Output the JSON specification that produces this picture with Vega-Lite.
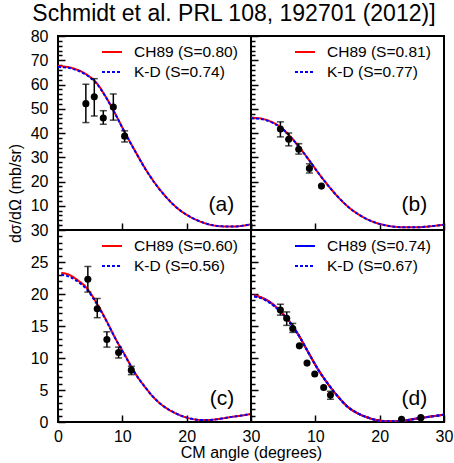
{
  "$schema": "https://vega.github.io/schema/vega-lite/v6.json",
  "padding": {"left": 6, "top": 3, "right": 2, "bottom": 40},
  "background": "white",
  "title": {"text": "Schmidt et al. PRL 108, 192701 (2012)]", "fontSize": 23, "font": "Liberation Sans", "fontWeight": "normal", "anchor": "middle", "color": "black", "offset": 1, "dx": 4},
  "datasets": {
    "curves": [
      {"p":"a","x":0,"ch":67.6,"kd":67.2},{"p":"a","x":1.5,"ch":67.2,"kd":66.9},{"p":"a","x":3,"ch":66.1,"kd":65.8},{"p":"a","x":4.5,"ch":64.0,"kd":63.8},{"p":"a","x":6,"ch":60.6,"kd":60.4},{"p":"a","x":7.5,"ch":54.6,"kd":54.5},{"p":"a","x":9,"ch":47.4,"kd":47.3},{"p":"a","x":10.5,"ch":39.7,"kd":39.6},{"p":"a","x":12,"ch":32.5,"kd":32.4},{"p":"a","x":13.5,"ch":25.6,"kd":25.5},{"p":"a","x":15,"ch":19.6,"kd":19.5},{"p":"a","x":16.5,"ch":14.5,"kd":14.5},{"p":"a","x":18,"ch":10.3,"kd":10.3},{"p":"a","x":19.5,"ch":7.1,"kd":7.1},{"p":"a","x":21,"ch":4.8,"kd":4.8},{"p":"a","x":22.5,"ch":3.1,"kd":3.1},{"p":"a","x":24,"ch":2.0,"kd":2.0},{"p":"a","x":25.5,"ch":1.5,"kd":1.5},{"p":"a","x":27,"ch":1.4,"kd":1.4},{"p":"a","x":28.5,"ch":1.7,"kd":1.7},{"p":"a","x":30,"ch":2.3,"kd":2.3},
      {"p":"b","x":0,"ch":46.3,"kd":46.1},{"p":"b","x":1.5,"ch":46.0,"kd":45.8},{"p":"b","x":3,"ch":44.8,"kd":44.6},{"p":"b","x":4.5,"ch":42.6,"kd":42.5},{"p":"b","x":6,"ch":38.9,"kd":38.8},{"p":"b","x":7.5,"ch":34.2,"kd":34.1},{"p":"b","x":9,"ch":28.9,"kd":28.9},{"p":"b","x":10.5,"ch":23.4,"kd":23.4},{"p":"b","x":12,"ch":18.3,"kd":18.3},{"p":"b","x":13.5,"ch":13.7,"kd":13.7},{"p":"b","x":15,"ch":9.8,"kd":9.8},{"p":"b","x":16.5,"ch":6.8,"kd":6.8},{"p":"b","x":18,"ch":4.5,"kd":4.5},{"p":"b","x":19.5,"ch":2.9,"kd":2.9},{"p":"b","x":21,"ch":1.9,"kd":1.9},{"p":"b","x":22.5,"ch":1.3,"kd":1.3},{"p":"b","x":24,"ch":1.1,"kd":1.1},{"p":"b","x":25.5,"ch":1.1,"kd":1.1},{"p":"b","x":27,"ch":1.3,"kd":1.3},{"p":"b","x":28.5,"ch":1.7,"kd":1.7},{"p":"b","x":30,"ch":2.2,"kd":2.2},
      {"p":"c","x":0.5,"ch":23.3,"kd":23.0},{"p":"c","x":1.5,"ch":23.1,"kd":22.8},{"p":"c","x":3,"ch":22.2,"kd":22.0},{"p":"c","x":4.5,"ch":20.9,"kd":20.7},{"p":"c","x":6,"ch":18.6,"kd":18.5},{"p":"c","x":7.5,"ch":15.9,"kd":15.8},{"p":"c","x":9,"ch":12.9,"kd":12.9},{"p":"c","x":10.5,"ch":10.3,"kd":10.2},{"p":"c","x":12,"ch":7.6,"kd":7.6},{"p":"c","x":13.5,"ch":5.5,"kd":5.5},{"p":"c","x":15,"ch":3.7,"kd":3.7},{"p":"c","x":16.5,"ch":2.4,"kd":2.4},{"p":"c","x":18,"ch":1.5,"kd":1.5},{"p":"c","x":19.5,"ch":0.85,"kd":0.85},{"p":"c","x":21,"ch":0.45,"kd":0.45},{"p":"c","x":22.5,"ch":0.3,"kd":0.3},{"p":"c","x":24,"ch":0.35,"kd":0.35},{"p":"c","x":25.5,"ch":0.55,"kd":0.55},{"p":"c","x":27,"ch":0.8,"kd":0.8},{"p":"c","x":28.5,"ch":1.0,"kd":1.0},{"p":"c","x":30,"ch":1.25,"kd":1.25},
      {"p":"d","x":0.5,"ch":19.8,"kd":19.6},{"p":"d","x":1.5,"ch":19.5,"kd":19.4},{"p":"d","x":3,"ch":18.7,"kd":18.6},{"p":"d","x":4.5,"ch":17.4,"kd":17.3},{"p":"d","x":6,"ch":15.7,"kd":15.6},{"p":"d","x":7.5,"ch":13.4,"kd":13.4},{"p":"d","x":9,"ch":10.7,"kd":10.7},{"p":"d","x":10.5,"ch":8.1,"kd":8.1},{"p":"d","x":12,"ch":5.9,"kd":5.9},{"p":"d","x":13.5,"ch":4.0,"kd":4.0},{"p":"d","x":15,"ch":2.4,"kd":2.4},{"p":"d","x":16.5,"ch":1.4,"kd":1.4},{"p":"d","x":18,"ch":0.75,"kd":0.75},{"p":"d","x":19.5,"ch":0.3,"kd":0.3},{"p":"d","x":21,"ch":0.12,"kd":0.12},{"p":"d","x":22.5,"ch":0.12,"kd":0.12},{"p":"d","x":24,"ch":0.25,"kd":0.25},{"p":"d","x":25.5,"ch":0.5,"kd":0.5},{"p":"d","x":27,"ch":0.72,"kd":0.72},{"p":"d","x":28.5,"ch":0.92,"kd":0.92},{"p":"d","x":30,"ch":1.15,"kd":1.15}
    ],
    "pts": [
      {"p":"a","x":4.33,"y":52.1,"lo":44.3,"hi":60.1},{"p":"a","x":5.64,"y":54.9,"lo":47.0,"hi":62.4},{"p":"a","x":7.04,"y":46.2,"lo":43.6,"hi":49.2},{"p":"a","x":8.6,"y":50.7,"lo":45.3,"hi":56.1},{"p":"a","x":10.36,"y":38.7,"lo":36.3,"hi":40.9},
      {"p":"b","x":4.57,"y":41.6,"lo":38.4,"hi":44.6},{"p":"b","x":5.86,"y":37.4,"lo":34.7,"hi":40.0},{"p":"b","x":7.42,"y":33.3,"lo":31.3,"hi":35.6},{"p":"b","x":9.08,"y":25.4,"lo":23.5,"hi":27.3},{"p":"b","x":10.95,"y":18.1,"lo":null,"hi":null},
      {"p":"c","x":4.64,"y":22.3,"lo":20.3,"hi":24.3},{"p":"c","x":6.1,"y":17.7,"lo":16.3,"hi":19.3},{"p":"c","x":7.6,"y":12.9,"lo":11.7,"hi":14.1},{"p":"c","x":9.42,"y":10.85,"lo":10.0,"hi":11.7},{"p":"c","x":11.4,"y":8.1,"lo":7.4,"hi":8.7},
      {"p":"d","x":4.57,"y":17.5,"lo":16.7,"hi":18.4},{"p":"d","x":5.55,"y":16.2,"lo":15.1,"hi":17.2},{"p":"d","x":6.49,"y":14.6,"lo":14.0,"hi":15.4},{"p":"d","x":7.52,"y":11.9,"lo":null,"hi":null},{"p":"d","x":8.71,"y":9.2,"lo":null,"hi":null},{"p":"d","x":9.91,"y":7.5,"lo":null,"hi":null},{"p":"d","x":11.3,"y":5.4,"lo":null,"hi":null},{"p":"d","x":12.35,"y":4.2,"lo":3.55,"hi":4.8},{"p":"d","x":23.4,"y":0.42,"lo":null,"hi":null},{"p":"d","x":26.4,"y":0.68,"lo":null,"hi":null}
    ],
    "tags": [{"p":"a","lab":"(a)"},{"p":"b","lab":"(b)"},{"p":"c","lab":"(c)"},{"p":"d","lab":"(d)"}]
  },
  "config": {
    "view": {"stroke": "black", "strokeWidth": 2},
    "axis": {"labelFont": "Liberation Sans", "labelFontSize": 16, "labelColor": "black", "titleFont": "Liberation Sans", "titleFontSize": 16, "titleFontWeight": "normal", "titleColor": "black", "tickColor": "black", "tickWidth": 1.5, "domain": false, "grid": false, "labelFlush": false, "labelOverlap": false},
    "legend": {"orient": "none", "legendX": 43, "legendY": 5, "labelFont": "Liberation Sans", "labelFontSize": 15.5, "labelColor": "black", "symbolType": "stroke", "symbolSize": 400, "symbolStrokeWidth": 2, "labelOffset": 11, "rowPadding": -4, "padding": 0, "labelLimit": 300}
  },
  "columns": 2,
  "spacing": 0,
  "bounds": "flush",
  "resolve": {"scale": {"color": "independent", "stroke": "independent", "strokeDash": "independent"}},
  "concat": [
    {
      "width": 193, "height": 194,
      "resolve": {"axis": {"y": "independent"}},
      "layer": [
        {"data": {"name": "curves"}, "transform": [{"filter": "datum.p === 'a'"}, {"fold": ["ch", "kd"], "as": ["m", "v"]}],
         "mark": {"type": "line", "interpolate": "monotone", "strokeWidth": 2, "clip": true},
         "encoding": {
           "x": {"field": "x", "type": "quantitative", "scale": {"domain": [0, 30], "nice": false, "zero": false},
                 "axis": {"values": [0, 10, 20, 30], "labels": false, "tickSize": -7, "title": null}},
           "y": {"field": "v", "type": "quantitative", "scale": {"domain": [0, 80], "nice": false},
                 "axis": {"values": [10,20,30,40,50,60,70,80], "orient": "left", "tickSize": -7, "labelPadding": 17,
                          "title": "dσ/dΩ (mb/sr)", "titleX": -35, "titleY": 157}},
           "color": {"field": "m", "type": "nominal", "scale": {"domain": ["ch", "kd"], "range": ["#ff0000", "#0000ff"]},
                     "legend": {"title": null, "labelExpr": "datum.label === 'ch' ? 'CH89 (S=0.80)' : 'K-D (S=0.74)'"}},
           "strokeDash": {"field": "m", "type": "nominal", "scale": {"domain": ["ch", "kd"], "range": [[1, 0], [3, 2]]},
                     "legend": {"title": null, "labelExpr": "datum.label === 'ch' ? 'CH89 (S=0.80)' : 'K-D (S=0.74)'"}}
         }},
        {"data": {"name": "pts"}, "transform": [{"filter": "datum.p === 'a' && datum.lo != null"}],
         "mark": {"type": "errorbar", "color": "black", "thickness": 1.5, "ticks": {"size": 7, "thickness": 1.5, "color": "black"}},
         "encoding": {"x": {"field": "x", "type": "quantitative"},
                      "y": {"field": "lo", "type": "quantitative", "axis": {"values": [2,4,6,8,12,14,16,18,22,24,26,28,32,34,36,38,42,44,46,48,52,54,56,58,62,64,66,68,72,74,76,78], "orient": "left", "tickSize": -4, "labels": false, "title": null}},
                      "y2": {"field": "hi"}}},
        {"data": {"name": "pts"}, "transform": [{"filter": "datum.p === 'a'"}],
         "mark": {"type": "point", "filled": true, "color": "black", "opacity": 1, "size": 50},
         "encoding": {"x": {"field": "x", "type": "quantitative"}, "y": {"field": "y", "type": "quantitative", "axis": null}}},
        {"data": {"name": "tags"}, "transform": [{"filter": "datum.p === 'a'"}],
         "mark": {"type": "text", "align": "right", "baseline": "middle", "fontSize": 21, "font": "Liberation Sans", "color": "black"},
         "encoding": {"x": {"datum": 27.4, "type": "quantitative"}, "y": {"datum": 10.2, "type": "quantitative", "axis": null}, "text": {"field": "lab"}}}
      ]
    },
    {
      "width": 193, "height": 194,
      "resolve": {"axis": {"y": "independent"}},
      "layer": [
        {"data": {"name": "curves"}, "transform": [{"filter": "datum.p === 'b'"}, {"fold": ["ch", "kd"], "as": ["m", "v"]}],
         "mark": {"type": "line", "interpolate": "monotone", "strokeWidth": 2, "clip": true},
         "encoding": {
           "x": {"field": "x", "type": "quantitative", "scale": {"domain": [0, 30], "nice": false, "zero": false},
                 "axis": {"values": [0, 10, 20, 30], "labels": false, "tickSize": -7, "title": null}},
           "y": {"field": "v", "type": "quantitative", "scale": {"domain": [0, 80], "nice": false},
                 "axis": {"values": [10,20,30,40,50,60,70,80], "orient": "left", "tickSize": -7, "labels": false, "title": null}},
           "color": {"field": "m", "type": "nominal", "scale": {"domain": ["ch", "kd"], "range": ["#ff0000", "#0000ff"]},
                     "legend": {"title": null, "labelExpr": "datum.label === 'ch' ? 'CH89 (S=0.81)' : 'K-D (S=0.77)'"}},
           "strokeDash": {"field": "m", "type": "nominal", "scale": {"domain": ["ch", "kd"], "range": [[1, 0], [3, 2]]},
                     "legend": {"title": null, "labelExpr": "datum.label === 'ch' ? 'CH89 (S=0.81)' : 'K-D (S=0.77)'"}}
         }},
        {"data": {"name": "pts"}, "transform": [{"filter": "datum.p === 'b' && datum.lo != null"}],
         "mark": {"type": "errorbar", "color": "black", "thickness": 1.5, "ticks": {"size": 7, "thickness": 1.5, "color": "black"}},
         "encoding": {"x": {"field": "x", "type": "quantitative"},
                      "y": {"field": "lo", "type": "quantitative", "axis": {"values": [2,4,6,8,12,14,16,18,22,24,26,28,32,34,36,38,42,44,46,48,52,54,56,58,62,64,66,68,72,74,76,78], "orient": "left", "tickSize": -4, "labels": false, "title": null}},
                      "y2": {"field": "hi"}}},
        {"data": {"name": "pts"}, "transform": [{"filter": "datum.p === 'b'"}],
         "mark": {"type": "point", "filled": true, "color": "black", "opacity": 1, "size": 50},
         "encoding": {"x": {"field": "x", "type": "quantitative"}, "y": {"field": "y", "type": "quantitative", "axis": null}}},
        {"data": {"name": "tags"}, "transform": [{"filter": "datum.p === 'b'"}],
         "mark": {"type": "text", "align": "right", "baseline": "middle", "fontSize": 21, "font": "Liberation Sans", "color": "black"},
         "encoding": {"x": {"datum": 27.4, "type": "quantitative"}, "y": {"datum": 10.2, "type": "quantitative", "axis": null}, "text": {"field": "lab"}}}
      ]
    },
    {
      "width": 193, "height": 192,
      "resolve": {"axis": {"y": "independent"}},
      "layer": [
        {"data": {"name": "curves"}, "transform": [{"filter": "datum.p === 'c'"}, {"fold": ["ch", "kd"], "as": ["m", "v"]}],
         "mark": {"type": "line", "interpolate": "monotone", "strokeWidth": 2, "clip": true},
         "encoding": {
           "x": {"field": "x", "type": "quantitative", "scale": {"domain": [0, 30], "nice": false, "zero": false},
                 "axis": {"values": [0, 10, 20, 30], "tickSize": -7, "labelPadding": 13, "title": "CM angle (degrees)", "titleX": 193, "titlePadding": 0}},
           "y": {"field": "v", "type": "quantitative", "scale": {"domain": [0, 30], "nice": false},
                 "axis": {"values": [0,5,10,15,20,25,30], "orient": "left", "tickSize": -7, "labelPadding": 17, "title": null}},
           "color": {"field": "m", "type": "nominal", "scale": {"domain": ["ch", "kd"], "range": ["#ff0000", "#0000ff"]},
                     "legend": {"title": null, "labelExpr": "datum.label === 'ch' ? 'CH89 (S=0.60)' : 'K-D (S=0.56)'"}},
           "strokeDash": {"field": "m", "type": "nominal", "scale": {"domain": ["ch", "kd"], "range": [[1, 0], [3, 2]]},
                     "legend": {"title": null, "labelExpr": "datum.label === 'ch' ? 'CH89 (S=0.60)' : 'K-D (S=0.56)'"}}
         }},
        {"data": {"name": "pts"}, "transform": [{"filter": "datum.p === 'c' && datum.lo != null"}],
         "mark": {"type": "errorbar", "color": "black", "thickness": 1.5, "ticks": {"size": 7, "thickness": 1.5, "color": "black"}},
         "encoding": {"x": {"field": "x", "type": "quantitative"},
                      "y": {"field": "lo", "type": "quantitative", "axis": {"values": [1,2,3,4,6,7,8,9,11,12,13,14,16,17,18,19,21,22,23,24,26,27,28,29], "orient": "left", "tickSize": -4, "labels": false, "title": null}},
                      "y2": {"field": "hi"}}},
        {"data": {"name": "pts"}, "transform": [{"filter": "datum.p === 'c'"}],
         "mark": {"type": "point", "filled": true, "color": "black", "opacity": 1, "size": 50},
         "encoding": {"x": {"field": "x", "type": "quantitative"}, "y": {"field": "y", "type": "quantitative", "axis": null}}},
        {"data": {"name": "tags"}, "transform": [{"filter": "datum.p === 'c'"}],
         "mark": {"type": "text", "align": "right", "baseline": "middle", "fontSize": 21, "font": "Liberation Sans", "color": "black"},
         "encoding": {"x": {"datum": 27.4, "type": "quantitative"}, "y": {"datum": 3.65, "type": "quantitative", "axis": null}, "text": {"field": "lab"}}}
      ]
    },
    {
      "width": 193, "height": 192,
      "resolve": {"axis": {"y": "independent"}},
      "layer": [
        {"data": {"name": "curves"}, "transform": [{"filter": "datum.p === 'd'"}, {"fold": ["ch", "kd"], "as": ["m", "v"]}],
         "mark": {"type": "line", "interpolate": "monotone", "strokeWidth": 2, "clip": true},
         "encoding": {
           "x": {"field": "x", "type": "quantitative", "scale": {"domain": [0, 30], "nice": false, "zero": false},
                 "axis": {"values": [10, 20, 30], "tickSize": -7, "labelPadding": 13, "title": null}},
           "y": {"field": "v", "type": "quantitative", "scale": {"domain": [0, 30], "nice": false},
                 "axis": {"values": [5,10,15,20,25], "orient": "left", "tickSize": -7, "labels": false, "title": null}},
           "color": {"field": "m", "type": "nominal", "scale": {"domain": ["ch", "kd"], "range": ["#0000ff", "#0000ff"]},
                     "legend": {"title": null, "labelExpr": "datum.label === 'ch' ? 'CH89 (S=0.74)' : 'K-D (S=0.67)'"}},
           "strokeDash": {"field": "m", "type": "nominal", "scale": {"domain": ["ch", "kd"], "range": [[1, 0], [3, 2]]},
                     "legend": {"title": null, "labelExpr": "datum.label === 'ch' ? 'CH89 (S=0.74)' : 'K-D (S=0.67)'"}}
         }},
        {"data": {"name": "curves"}, "transform": [{"filter": "datum.p === 'd'"}],
         "mark": {"type": "line", "interpolate": "monotone", "strokeWidth": 2, "clip": true, "color": "#ff0000"},
         "encoding": {"x": {"field": "x", "type": "quantitative"}, "y": {"field": "ch", "type": "quantitative", "axis": null}}},
        {"data": {"name": "curves"}, "transform": [{"filter": "datum.p === 'd'"}],
         "mark": {"type": "line", "interpolate": "monotone", "strokeWidth": 2, "clip": true, "color": "#0000ff", "strokeDash": [3, 2]},
         "encoding": {"x": {"field": "x", "type": "quantitative"}, "y": {"field": "kd", "type": "quantitative", "axis": null}}},
        {"data": {"name": "pts"}, "transform": [{"filter": "datum.p === 'd' && datum.lo != null"}],
         "mark": {"type": "errorbar", "color": "black", "thickness": 1.5, "ticks": {"size": 7, "thickness": 1.5, "color": "black"}},
         "encoding": {"x": {"field": "x", "type": "quantitative"},
                      "y": {"field": "lo", "type": "quantitative", "axis": {"values": [1,2,3,4,6,7,8,9,11,12,13,14,16,17,18,19,21,22,23,24,26,27,28,29], "orient": "left", "tickSize": -4, "labels": false, "title": null}},
                      "y2": {"field": "hi"}}},
        {"data": {"name": "pts"}, "transform": [{"filter": "datum.p === 'd'"}],
         "mark": {"type": "point", "filled": true, "color": "black", "opacity": 1, "size": 50},
         "encoding": {"x": {"field": "x", "type": "quantitative"}, "y": {"field": "y", "type": "quantitative", "axis": null}}},
        {"data": {"name": "tags"}, "transform": [{"filter": "datum.p === 'd'"}],
         "mark": {"type": "text", "align": "right", "baseline": "middle", "fontSize": 21, "font": "Liberation Sans", "color": "black"},
         "encoding": {"x": {"datum": 27.4, "type": "quantitative"}, "y": {"datum": 3.65, "type": "quantitative", "axis": null}, "text": {"field": "lab"}}}
      ]
    }
  ]
}
